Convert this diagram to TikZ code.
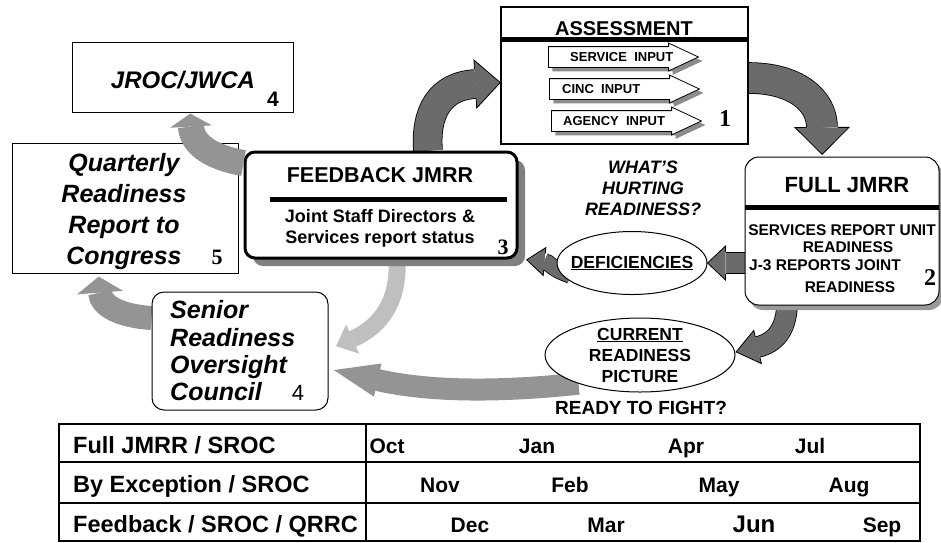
\documentclass[tikz,border=0pt]{standalone}
\usepackage{fontspec}
\setmainfont{Liberation Sans}
\newfontfamily\numfont{Liberation Serif}
\usetikzlibrary{shapes.geometric}
\usetikzlibrary{shapes.arrows}
\usetikzlibrary{shadows}
\usetikzlibrary{backgrounds}
\usetikzlibrary{decorations.markings}

\newcommand\ptsize[2]{\fontsize{#1}{#2}\selectfont}
\colorlet{flowdark}{black!58}
\colorlet{flowlight}{black!42}
\colorlet{flowpale}{black!25}

\tikzset{
  box/.style={draw, line width=1pt, fill=white, inner sep=0pt},
  bar/.style={line width=5pt},
  txt/.style 2 args={font=\bfseries\ptsize{#1}{#2}},
  itxt/.style 2 args={font=\bfseries\itshape\ptsize{#1}{#2}, align=center, inner sep=0pt},
  num/.style={font=\numfont\bfseries\ptsize{#1}{#1}, inner sep=0pt},
  inarrow/.style={single arrow, draw, line width=0.8pt, fill=white, inner xsep=0pt, inner ysep=10pt,
    minimum height=150pt, single arrow head extend=3.5pt, single arrow tip angle=50, anchor=tail,
    drop shadow={shadow xshift=4pt, shadow yshift=-4pt, fill=black!45, opacity=1}},
  intxt/.style={font=\bfseries\ptsize{13}{15}, anchor=west, inner sep=0pt},
  rowtxt/.style={font=\bfseries\ptsize{23.5}{26}, anchor=base west, inner sep=0pt},
  month/.style={font=\bfseries\ptsize{21}{24}, anchor=base, inner sep=0pt},
  % head of a flow arrow: shaft width, head length, head width, colour
  flowtip/.style n args={4}{postaction={decorate, decoration={markings,
      mark=at position 0.999 with {\fill[#4] (0,#3/2) -- (#2,0) -- (0,-#3/2) -- cycle;}}}},
  flow/.style n args={4}{draw=#4, line width=#1, flowtip={#1}{#2}{#3}{#4}},
  darkflow/.style n args={3}{draw=flowdark, line width=#1,
    preaction={draw=black, line width=#1+1.6},
    flowtip={#1}{#2}{#3}{flowdark},
    postaction={decorate, decoration={markings, mark=at position 0.999 with {
      \draw[black, line width=0.8pt] (0,#1/2+0.8) -- (0,#3/2) -- (#2,0) -- (0,-#3/2) -- (0,-#1/2-0.8);}}}},
}

\begin{document}
\begin{tikzpicture}[x=1pt, y=-1pt]
  % Boundary
  \useasboundingbox (0,0) rectangle (941,542);

  % Assessment
  \node[box, line width=1.2pt, minimum width=247, minimum height=137] (as) at (624.5,75.5) {};
  \node[txt={20}{24}] (astitle) at (624,29) {ASSESSMENT};
  \draw[bar] (501,39) -- (748,39);
  \node[inarrow] (svc) at (548,57) {};
  \node[intxt] (svctxt) at (570,57) {SERVICE\ \ INPUT};
  \node[inarrow] (cinc) at (549,89) {};
  \node[intxt] (cinctxt) at (562,89) {CINC\ \ INPUT};
  \node[inarrow] (agency) at (551,121) {};
  \node[intxt] (agencytxt) at (563,121) {AGENCY\ \ INPUT};
  \node[num={24}] (n1) at (725,119) {1};

  % Full JMRR
  \node[box, rounded corners=14pt, minimum width=194, minimum height=148,
    drop shadow={shadow xshift=4pt, shadow yshift=-5pt, fill=black!40, opacity=1}] (full) at (842,231) {};
  \node[txt={22}{26}] (fulltitle) at (847,185) {FULL JMRR};
  \draw[bar] (745,207) -- (939,207);
  \node[txt={15.5}{17}] (full1) at (842,230) {SERVICES REPORT UNIT};
  \node[txt={15.5}{17}] (full2) at (848,247) {READINESS};
  \node[txt={15.5}{17}] (full3) at (825,265) {J-3 REPORTS JOINT};
  \node[txt={15.5}{17}] (full4) at (850,287) {READINESS};
  \node[num={24}] (n2) at (930,278) {2};

  % Feedback JMRR
  \node[box, line width=3pt, rounded corners=10pt, minimum width=272, minimum height=106,
    drop shadow={shadow xshift=8pt, shadow yshift=-8pt, fill=black!50, opacity=1}] (fb) at (381,205) {};
  \node[txt={21.5}{26}] (fbtitle) at (380,175) {FEEDBACK JMRR};
  \draw[bar] (270,199) -- (507,199);
  \node[txt={18}{21}, align=center] (fbbody) at (380,228) {Joint Staff Directors \&\\Services report status};
  \node[num={22}] (n3) at (503,247) {3};

  % JROC / JWCA
  \node[box, minimum width=221, minimum height=70] (jroc) at (182.5,77) {};
  \node[itxt={24}{28}] (jroctxt) at (183,80) {JROC/JWCA};
  \node[font=\bfseries\ptsize{21}{21}, inner sep=0pt] (n4a) at (273,99) {4};

  % Quarterly report
  \node[box, minimum width=226, minimum height=130] (qr) at (125,208) {};
  \node[itxt={25}{31}] (qrtxt) at (124,212) {Quarterly\\Readiness\\Report to\\Congress};
  \node[num={22}] (n5) at (217,257) {5};

  % SROC
  \node[box, rounded corners=12pt, minimum width=176, minimum height=118] (sroc) at (240,351) {};
  \node[itxt={25}{27.3}, align=left, anchor=west] (sroctxt) at (170,351) {Senior\\Readiness\\Oversight\\Council};
  \node[font=\ptsize{22}{22}, inner sep=0pt] (n4b) at (298,393) {4};

  % Middle labels
  \node[itxt={18}{21}] (hurt) at (643,188) {WHAT’S\\HURTING\\READINESS?};
  \node[ellipse, draw, line width=1pt, fill=white, minimum width=150, minimum height=63, inner sep=0pt,
    label={[txt={17.5}{21}]center:\underline{DEFICIENCIES}}] (def) at (632,263) {};
  \node[ellipse, draw, line width=1pt, fill=white, minimum width=190, minimum height=74, inner sep=0pt,
    label={[txt={17.5}{21}, align=center]center:\underline{CURRENT}\\READINESS\\PICTURE}] (cur) at (640,355) {};
  \node[txt={19}{22}] (fight) at (641,408) {READY TO FIGHT?};

  % Schedule table
  \draw[line width=1.3pt] (59,424) rectangle (920,541);
  \draw[line width=1.3pt] (59,462) -- (920,462) (59,503) -- (920,503) (366,424) -- (366,541);
  \node[rowtxt] (row1) at (73,453) {Full JMRR / SROC};
  \node[rowtxt] (row2) at (73,492) {By Exception / SROC};
  \node[rowtxt] (row3) at (73,532) {Feedback / SROC / QRRC};
  \foreach \m/\x in {Oct/387, Jan/537, Apr/686, Jul/810}
    \node[month] (m\m) at (\x,453) {\m};
  \foreach \m/\x in {Nov/440, Feb/570, May/719, Aug/849}
    \node[month] (m\m) at (\x,492) {\m};
  \foreach \m/\x in {Dec/470, Mar/606, Sep/882}
    \node[month] (m\m) at (\x,532) {\m};
  \node[month, font=\bfseries\ptsize{24}{26}] (mJun) at (754,532) {Jun};

  % Flow arrows behind the boxes
  \begin{pgfonlayer}{background}
    \draw[darkflow={28}{25}{48}] ([xshift=47pt]fb.north) .. controls (425,112) and (440,86) .. ([xshift=-25pt, yshift=-8.5pt]as.west);
    \draw[darkflow={30}{27}{54}] ([yshift=-2.5pt]as.east) .. controls (795,78) and (822,100) .. ([xshift=-20pt, yshift=29pt]full.north);
    \draw[darkflow={20}{18}{34}] ([xshift=4pt, yshift=-32pt]full.west) -- ([xshift=18pt]def.east);
    \draw[darkflow={15}{18}{28}] ([xshift=8pt]def.190) .. controls (549,268) and (550,262) .. ([xshift=26pt, yshift=-2pt]fb.south east);
    \draw[darkflow={20}{22}{34}] ([xshift=-55pt]full.south) .. controls (786,330) and (775,343) .. ([xshift=22pt, yshift=8pt]cur.east);
    \draw[flow={24}{16}{46}{flowlight}] ([yshift=33pt]sroc.west) .. controls (120,316) and (101,306) .. ([xshift=-25pt, yshift=-19pt]qr.south);
    \draw[flow={22}{45}{34}{flowlight}] (cur.205) .. controls (500,392) and (430,392) .. ([xshift=49pt, yshift=-29pt]sroc.east);
    \draw[flow={17}{18}{32}{flowpale}] ([xshift=16pt]fb.south) .. controls (399,300) and (382,326) .. ([xshift=24pt, yshift=12pt]sroc.east);
  \end{pgfonlayer}
  % this one runs over the report box corner
  \draw[flow={26}{13}{42}{flowlight}] ([yshift=42pt]fb.west) .. controls (213,158) and (192,145) .. ([xshift=8.5pt, yshift=-14pt]jroc.south);
\end{tikzpicture}
\end{document}
